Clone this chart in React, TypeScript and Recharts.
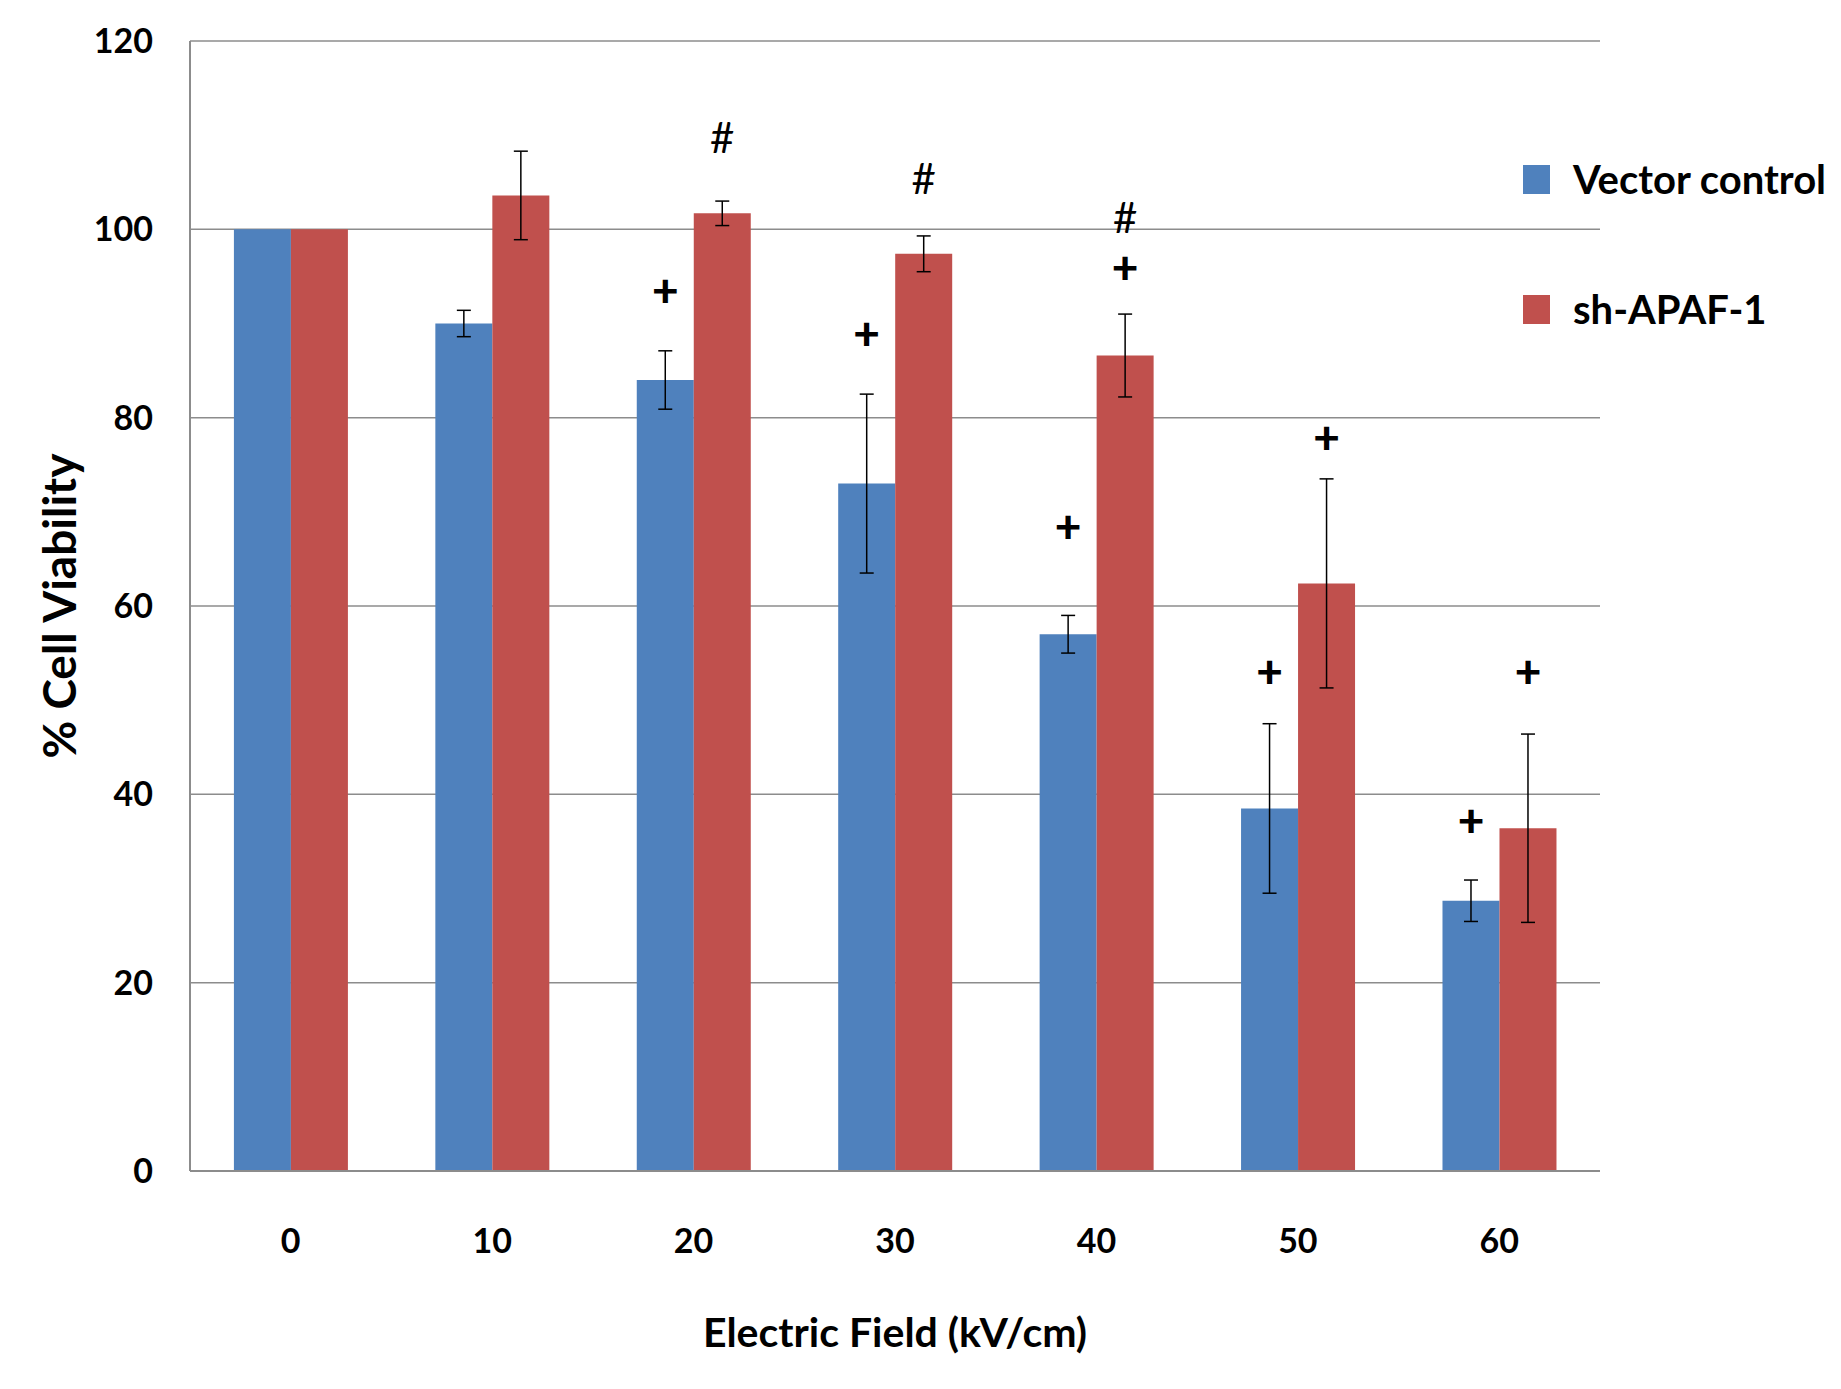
import React from 'react';
import { BarChart, Bar, XAxis, YAxis, CartesianGrid, ErrorBar, LabelList, Legend } from 'recharts';

const categories = ['0', '10', '20', '30', '40', '50', '60'];
const vectorControl = [100, 90, 84, 73, 57, 38.5, 28.7];
const vectorErr = [0, 1.4, 3.1, 9.5, 2, 9, 2.2];
const shApaf = [100, 103.6, 101.7, 97.4, 86.6, 62.4, 36.4];
const shErr = [0, 4.7, 1.3, 1.9, 4.4, 11.1, 10];
// where the significance marks sit, in % units
const vectorPlus = [null, null, 93.6, 89, 68.6, 53.2, 37.3];
const shPlus = [null, null, null, null, 96.1, 78, 53.2];
const shHash = [null, null, 109.8, 105.4, 101.3, null, null];
const yTicks = [0, 20, 40, 60, 80, 100, 120];

const data = categories.map((c, i) => ({
  field: c,
  vector: vectorControl[i],
  vectorErr: vectorErr[i],
  sh: shApaf[i],
  shErr: shErr[i],
}));

const FONT = 'Lato, "Open Sans", sans-serif';

const markLabel = (values: number[], marks: (number | null)[], glyph: string, bold: boolean) => (props: any) => {
  const { index } = props;
  const box = props.viewBox || props;
  const pos = marks[index];
  if (pos == null) return null;
  const { x, y, width, height } = box;
  const perUnit = height / values[index];
  const cy = y + height - pos * perUnit;
  return (
    <text
      x={x + width / 2}
      y={cy}
      textAnchor="middle"
      dominantBaseline="central"
      fontFamily={FONT}
      fontSize={bold ? 46 : 42}
      fontWeight={bold ? 900 : 400}
      fill="#000"
    >
      {glyph}
    </text>
  );
};

const renderLegend = (props: any) => {
  const { payload } = props;
  return (
    <div>
      {payload.map((p: any, i: number) => (
        <div key={i} style={{ display: 'flex', alignItems: 'center', height: 30, marginBottom: 100 }}>
          <div style={{ width: 27, height: 29, background: p.color, marginRight: 23 }} />
          <span style={{ fontFamily: FONT, fontSize: 40, fontWeight: 700, color: '#000', whiteSpace: 'nowrap' }}>
            {p.value}
          </span>
        </div>
      ))}
    </div>
  );
};

const App: React.FC = () => {
  return (
    <div style={{ position: 'absolute', left: 0, top: 0, width: 1841, height: 1389, background: '#fff' }}>
      <BarChart
        width={1841}
        height={1389}
        data={data}
        margin={{ top: 41, right: 241, left: 0, bottom: 0 }}
        barCategoryGap="21.8%"
        barGap={0}
      >
        <CartesianGrid vertical={false} stroke="#8c8c8c" strokeWidth={1.5} />
        <XAxis
          dataKey="field"
          height={218}
          tickLine={false}
          tickSize={0}
          tickMargin={58}
          axisLine={{ stroke: '#8c8c8c', strokeWidth: 2 }}
          tick={{ fill: '#000', fontSize: 34, fontWeight: 700, fontFamily: FONT }}
          label={{
            value: 'Electric Field (kV/cm)',
            position: 'insideBottom',
            offset: 42,
            style: { fill: '#000', fontSize: 41, fontWeight: 700, fontFamily: FONT },
          }}
        />
        <YAxis
          width={190}
          domain={[0, 120]}
          ticks={yTicks}
          tickLine={false}
          tickSize={0}
          tickMargin={37}
          axisLine={{ stroke: '#8c8c8c', strokeWidth: 2 }}
          tick={{ fill: '#000', fontSize: 34, fontWeight: 700, fontFamily: FONT }}
          label={{
            value: '% Cell Viability',
            angle: -90,
            position: 'insideLeft',
            offset: 60,
            style: { fill: '#000', fontSize: 46, fontWeight: 700, fontFamily: FONT, textAnchor: 'middle' },
          }}
        />
        <Legend
          layout="vertical"
          align="center"
          verticalAlign="middle"
          content={renderLegend}
          wrapperStyle={{ position: 'absolute', left: 1523, top: 164, width: 318 }}
        />
        <Bar dataKey="vector" name="Vector control" fill="#4F81BD" isAnimationActive={false}>
          <ErrorBar dataKey="vectorErr" width={7} stroke="#000" strokeWidth={1.5} direction="y" />
          <LabelList dataKey="vector" content={markLabel(vectorControl, vectorPlus, '+', true)} />
        </Bar>
        <Bar dataKey="sh" name="sh-APAF-1" fill="#C0504D" isAnimationActive={false}>
          <ErrorBar dataKey="shErr" width={7} stroke="#000" strokeWidth={1.5} direction="y" />
          <LabelList dataKey="sh" content={markLabel(shApaf, shPlus, '+', true)} />
          <LabelList dataKey="sh" content={markLabel(shApaf, shHash, '#', false)} />
        </Bar>
      </BarChart>
    </div>
  );
};

export default App;
